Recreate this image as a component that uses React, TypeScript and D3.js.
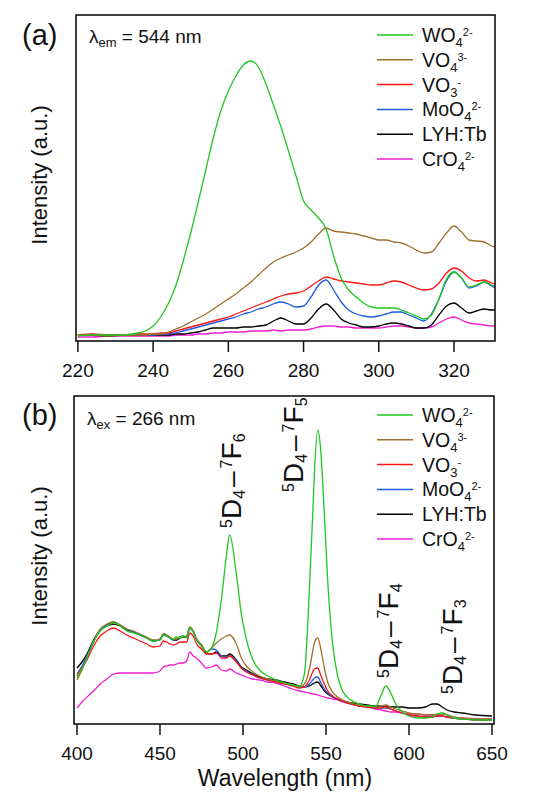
import React from "react";
import * as d3 from "d3";

// ---------- Panel (a): excitation spectra, λem = 544 nm ----------
const wlA = [220,224,228,232,236,238,240,242,244,246,248,250,252,254,256,258,260,262,264,266,268,270,272,274,276,278,280,282,284,286,288,290,292,294,296,298,300,302,304,306,308,310,312,314,316,318,320,322,324,326,328,330,331];
const aWO4 = [5,6,6,6,8,10,15,24,37,55,80,108,139,171,203,230,250,265,276,280,274,257,236,214,190,165,140,131,123,112,85,63,51,44,38,34,33,33,33,31,28,25,22,26,42,62,69,63,54,56,59,56,55];
const aVO4 = [6,6,5,6,6,6,7,7,9,12,15,19,23,27,32,37,42,47,53,59,66,73,79,83,86,89,93,99,107,113,110,109,108,107,105,103,101,101,99,98,95,91,88,89,98,108,115,109,101,100,99,95,94];
const aVO3 = [6,7,6,6,7,7,7,8,8,10,12,14,16,18,20,22,24,27,30,33,36,39,42,45,47,48,50,55,60,64,62,60,59,58,57,56,56,58,60,59,56,53,51,52,58,68,73,70,63,60,61,58,57];
const aMoO4 = [6,6,6,6,6,6,6,7,7,8,10,12,14,16,18,20,22,24,27,29,32,34,37,39,37,34,35,44,56,61,51,39,31,27,25,24,25,27,29,29,26,23,20,27,42,60,69,63,53,55,59,55,53];
const aLYH = [6,6,5,6,6,6,6,6,6,7,7,8,9,11,13,13,13,13,14,14,15,16,20,23,20,17,17,23,32,37,31,22,18,16,14,14,15,17,18,17,15,13,13,16,26,35,38,33,28,30,32,31,31];
const aCrO4 = [4,4,5,5,5,5,5,5,5,6,6,6,7,7,8,8,9,9,9,10,10,10,11,10,11,11,11,12,14,15,15,14,14,13,13,13,13,14,15,15,14,13,13,14,18,22,24,21,18,17,16,15,15];
const ticksA = [220,240,260,280,300,320];

// ---------- Panel (b): emission spectra, λex = 266 nm ----------
const wlB = [400,403,406,410,414,418,422,426,430,434,438,442,446,450,452,454,456,458,460,462,464,466,468,470,472,475,478,481,484,487,490,492,496,499,502,506,510,515,520,525,530,534,537,540,542,543,545,547,549,551,554,557,560,565,570,575,580,583,586,589,592,596,600,605,610,614,617,620,623,627,632,640,650];
const bWO4 = [46,55,66,82,93,98,101,98,93,91,89,86,83,84,89,88,86,85,87,86,88,86,96,92,84,78,72,76,92,125,168,189,150,110,85,64,54,48,44,41,39,38,50,135,210,250,294,270,210,144,80,48,33,24,20,18,18,28,38,31,20,12,8,6,6,7,10,11,9,6,5,4,4];
const bVO4 = [44,54,66,82,95,100,102,99,95,93,90,87,84,85,90,89,87,85,85,87,87,88,97,93,85,79,72,76,81,85,88,89,80,66,58,52,48,45,43,41,39,37,40,55,73,81,86,74,56,42,32,27,24,21,19,18,17,18,19,17,15,13,11,10,9,9,10,10,9,7,6,5,5];
const bVO3 = [48,56,64,78,88,93,96,93,89,86,83,80,77,78,83,82,80,79,80,82,82,82,91,88,80,75,70,70,71,66,66,68,62,56,52,49,46,44,42,40,38,36,37,44,52,55,56,48,40,33,28,25,23,20,18,17,16,16,17,15,13,11,9,8,7,7,8,8,7,6,5,4,4];
const bMoO4 = [50,58,68,83,94,99,102,99,95,92,89,86,83,85,90,89,86,84,85,87,88,87,96,92,84,78,72,75,74,68,67,68,63,56,53,49,46,44,43,41,39,37,37,40,44,46,47,41,35,31,27,25,23,20,18,17,16,16,16,15,13,11,9,8,7,7,8,8,7,6,5,4,4];
const bLYH = [56,62,70,84,94,98,100,98,94,92,89,86,83,84,89,88,86,84,84,86,87,87,96,93,85,79,71,70,72,68,68,70,64,57,54,50,47,45,44,42,40,38,37,38,40,41,42,38,33,30,27,25,23,21,20,19,18,18,18,17,17,17,16,16,17,20,20,17,14,12,11,9,8];
const bCrO4 = [16,22,27,33,40,45,50,51,51,51,51,51,51,53,57,58,59,59,60,61,61,63,72,68,66,61,56,57,59,54,53,55,51,49,47,45,44,42,41,38,35,33,32,31,30,30,29,28,27,26,25,24,22,20,18,17,15,14,13,12,12,11,10,10,9,9,9,8,7,6,6,5,5];
const ticksB = [400,450,500,550,600,650];

// ---------- Legend ----------
const legendBase = ["WO", "VO", "VO", "MoO", "LYH:Tb", "CrO"];
const legendSub = ["4", "4", "3", "4", "", "4"];
const legendSup = ["2-", "3-", "-", "2-", "", "2-"];
const seriesColors = ["#1ec81e", "#a0702c", "#ff1414", "#1c5ce0", "#000000", "#f01ed2"];

// ---------- Transition annotations (panel b) ----------
const transLevel = ["6", "5", "4", "3"];
const transWl = [492, 545, 586, 620];

const FONT = "'Liberation Sans', Arial, Helvetica, sans-serif";

function Panel(props: any) {
  const { wl, series, xDom, yDom, box, ticks, clipId } = props;
  const x = d3.scaleLinear().domain(xDom).range([box.left, box.right]);
  const y = d3.scaleLinear().domain(yDom).range([box.bottom, box.top]);
  const line = d3
    .line<number>()
    .x((_, i) => x(wl[i]))
    .y((d) => y(d))
    .curve(d3.curveMonotoneX);
  const order = [5, 4, 3, 2, 1, 0];
  return (
    <g>
      <defs>
        <clipPath id={clipId}>
          <rect x={box.left} y={box.top} width={box.right - box.left} height={box.bottom - box.top} />
        </clipPath>
      </defs>
      <g clipPath={`url(#${clipId})`}>
        {order.map((k) => (
          <path key={k} d={line(series[k]) || ""} fill="none" stroke={seriesColors[k]} strokeWidth={1.3} />
        ))}
      </g>
      <rect x={box.left} y={box.top} width={box.right - box.left} height={box.bottom - box.top} fill="none" stroke="#111" strokeWidth={1.6} />
      {ticks.map((t: number) => (
        <g key={t}>
          <line x1={x(t)} x2={x(t)} y1={box.bottom} y2={box.bottom + 11} stroke="#111" strokeWidth={1.5} />
          <text x={x(t)} y={box.bottom + 36} textAnchor="middle" fontSize={19} fontFamily={FONT} fill="#111">
            {t}
          </text>
        </g>
      ))}
      <text
        transform={`translate(47,${box.top + 160}) rotate(-90)`}
        textAnchor="middle"
        fontSize={22}
        fontFamily={FONT}
        fill="#111"
      >
        Intensity (a.u.)
      </text>
    </g>
  );
}

function Legend({ top }: { top: number }) {
  return (
    <g fontFamily={FONT} fill="#111">
      {legendBase.map((b, i) => {
        const yy = top + i * 24.8;
        return (
          <g key={i}>
            <line x1={377} x2={413} y1={yy} y2={yy} stroke={seriesColors[i]} strokeWidth={1.5} />
            <text x={422} y={yy + 7} fontSize={19.5}>
              <tspan>{b}</tspan>
              {legendSub[i] && (
                <tspan fontSize={13} dy={5}>
                  {legendSub[i]}
                </tspan>
              )}
              {legendSup[i] && (
                <tspan fontSize={11} dy={-11}>
                  {legendSup[i]}
                </tspan>
              )}
            </text>
          </g>
        );
      })}
    </g>
  );
}

function Transition({ x, y, level }: { x: number; y: number; level: string }) {
  return (
    <text transform={`translate(${x},${y}) rotate(-90)`} fontSize={28} fontFamily={FONT} fill="#111">
      <tspan fontSize={16} dy={-9}>5</tspan>
      <tspan dy={9}>D</tspan>
      <tspan fontSize={16} dy={4}>4</tspan>
      <tspan dy={-4} dx={3}>–</tspan>
      <tspan fontSize={16} dy={-9} dx={3}>7</tspan>
      <tspan dy={9}>F</tspan>
      <tspan fontSize={16} dy={4}>{level}</tspan>
    </text>
  );
}

export default function App() {
  const boxA = { left: 76, right: 495, top: 15, bottom: 341 };
  const boxB = { left: 74, right: 494, top: 396, bottom: 724 };
  const xB = d3.scaleLinear().domain([398.2, 651.2]).range([boxB.left, boxB.right]);
  const transPos = [
    { dx: 11, y: 528 },
    { dx: -15, y: 492 },
    { dx: 12, y: 678 },
    { dx: 20, y: 694 },
  ];
  return (
    <svg
      width={538}
      height={794}
      style={{ position: "absolute", left: 0, top: 0, background: "#fff" }}
      fontFamily={FONT}
    >
      <rect x={0} y={0} width={538} height={794} fill="#fff" />
      <Panel
        wl={wlA}
        series={[aWO4, aVO4, aVO3, aMoO4, aLYH, aCrO4]}
        xDom={[219.5, 330.9]}
        yDom={[0, 326]}
        box={boxA}
        ticks={ticksA}
        clipId="clipA"
      />
      <Panel
        wl={wlB}
        series={[bWO4, bVO4, bVO3, bMoO4, bLYH, bCrO4]}
        xDom={[398.2, 651.2]}
        yDom={[0, 328]}
        box={boxB}
        ticks={ticksB}
        clipId="clipB"
      />
      <Legend top={35} />
      <Legend top={415} />
      <text x={22} y={45} fontSize={29} fill="#111">(a)</text>
      <text x={22} y={425} fontSize={29} fill="#111">(b)</text>
      <text x={89} y={43} fontSize={19} fill="#111">
        <tspan>λ</tspan>
        <tspan fontSize={13} dy={4}>em</tspan>
        <tspan dy={-4}> = 544 nm</tspan>
      </text>
      <text x={87} y={425} fontSize={19} fill="#111">
        <tspan>λ</tspan>
        <tspan fontSize={13} dy={4}>ex</tspan>
        <tspan dy={-4}> = 266 nm</tspan>
      </text>
      {transLevel.map((lv, i) => (
        <Transition key={lv} x={xB(transWl[i]) + transPos[i].dx} y={transPos[i].y} level={lv} />
      ))}
      <text x={285} y={786} textAnchor="middle" fontSize={23} fill="#111">
        Wavelength (nm)
      </text>
    </svg>
  );
}
